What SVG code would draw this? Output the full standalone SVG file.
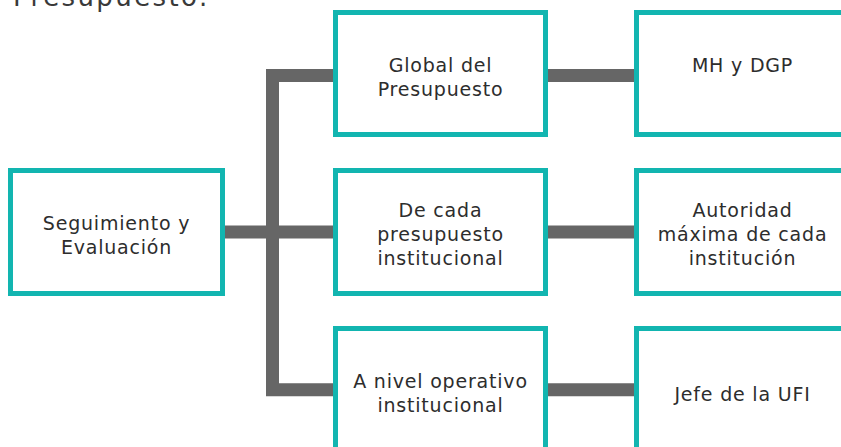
<svg xmlns="http://www.w3.org/2000/svg" width="841" height="447" viewBox="0 0 841 447">
<style>
.box{fill:#ffffff;stroke:#12B5B0;stroke-width:5}
.lbl{font-family:"DejaVu Sans","Liberation Sans",sans-serif;font-size:19px;letter-spacing:0.8px;fill:#2d2d2d;text-anchor:middle}
.conn{fill:none;stroke:#666666;stroke-width:13;stroke-linejoin:miter}
.title{font-family:"DejaVu Sans","Liberation Sans",sans-serif;font-size:26px;letter-spacing:2.4px;fill:#3a3a3a}
</style>
<rect width="841" height="447" fill="#ffffff"/>
<text class="title" x="13" y="6">Presupuesto.</text>
<g id="connectors">
<path class="conn" d="M333,75.5 H272.5 V389.8 H333"/>
<path class="conn" d="M225,232 H333"/>
<path class="conn" d="M548,75.5 H634"/>
<path class="conn" d="M548,232 H634"/>
<path class="conn" d="M548,389.8 H634"/>
</g>
<g id="seguimiento">
<rect class="box" x="10.5" y="170.5" width="212" height="123"/>
<text class="lbl" x="116.5" y="230">Seguimiento y</text>
<text class="lbl" x="116.5" y="254">Evaluación</text>
</g>
<g id="global">
<rect class="box" x="335.5" y="12.5" width="210" height="122"/>
<text class="lbl" x="440.5" y="72">Global del</text>
<text class="lbl" x="440.5" y="96">Presupuesto</text>
</g>
<g id="decada">
<rect class="box" x="335.5" y="170.5" width="210" height="123"/>
<text class="lbl" x="440.5" y="217">De cada</text>
<text class="lbl" x="440.5" y="241">presupuesto</text>
<text class="lbl" x="440.5" y="265">institucional</text>
</g>
<g id="anivel">
<rect class="box" x="335.5" y="328.5" width="210" height="123"/>
<text class="lbl" x="440.5" y="388">A nivel operativo</text>
<text class="lbl" x="440.5" y="412">institucional</text>
</g>
<g id="mhdgp">
<rect class="box" x="636.5" y="12.5" width="212" height="122"/>
<text class="lbl" x="742.5" y="72">MH y DGP</text>
</g>
<g id="autoridad">
<rect class="box" x="636.5" y="170.5" width="212" height="123"/>
<text class="lbl" x="742.5" y="217">Autoridad</text>
<text class="lbl" x="742.5" y="241">máxima de cada</text>
<text class="lbl" x="742.5" y="265">institución</text>
</g>
<g id="jefe">
<rect class="box" x="636.5" y="328.5" width="212" height="123"/>
<text class="lbl" x="742.5" y="401">Jefe de la UFI</text>
</g>
</svg>
